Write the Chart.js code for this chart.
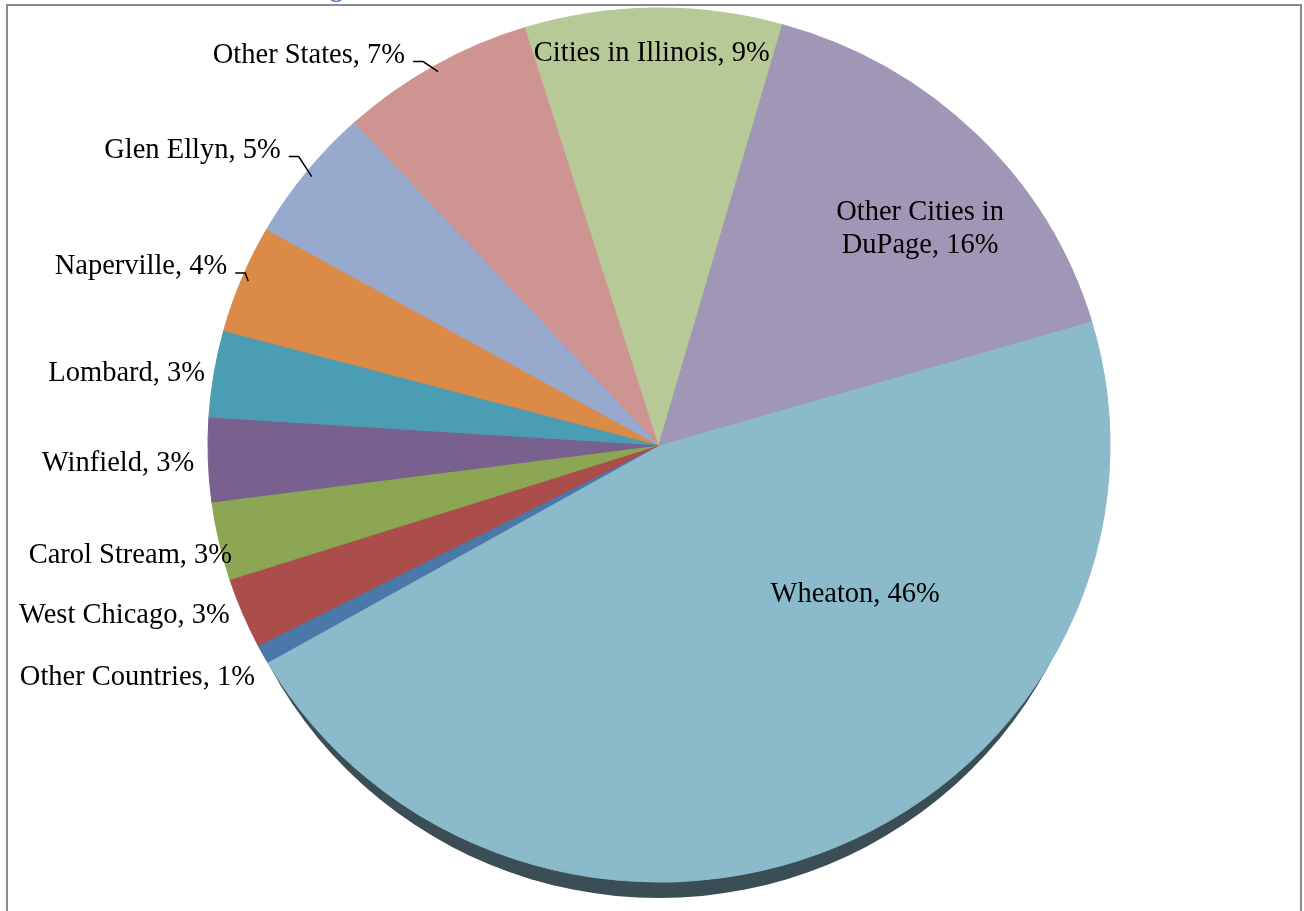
<!DOCTYPE html>
<html>
<head>
<meta charset="utf-8">
<title>Where students live</title>
<script src="https://cdn.jsdelivr.net/npm/chart.js@4.4.1/dist/chart.umd.min.js"></script>
<style>
  html, body { margin: 0; padding: 0; background: #fff; overflow: hidden; }
  #wrap { position: relative; width: 1304px; height: 911px; }
  #frame { position: absolute; left: 6px; top: 4px; width: 1292px; height: 960px; border: 2px solid #8c8c8c; border-bottom: none; }
  #pieChart { position: absolute; left: 0; top: 0; }
</style>
</head>
<body>
<div id="wrap">
  <div id="frame"></div>
  <canvas id="pieChart" width="1304" height="911"></canvas>
</div>
<script>
// -------------------- Data --------------------
const categories = ["Wheaton", "Other Countries", "West Chicago", "Carol Stream", "Winfield",
                    "Lombard", "Naperville", "Glen Ellyn", "Other States", "Cities in Illinois",
                    "Other Cities in DuPage"];
const shares = [46.3, 0.7, 2.6, 2.9, 3.1, 3.2, 4.0, 5.0, 7.0, 9.2, 16.0];
const sliceColors = ["#8bbacb", "#4a78a9", "#ab4d4b", "#8ca653", "#78608f",
                     "#4b9db3", "#dc8a48", "#97a9cc", "#ce9492", "#b8c998", "#a096b6"];

// -------------------- Label placement --------------------
// in   : centre of text, as a fraction of the radii from the pie centre
// out  : right end / baseline of text, relative to the slice's outer edge
// lead : same, but with a small leader line (offset is the elbow)
const labelSpots = [
    { kind: "in", u: 0.435, v: 0.343 },
    { kind: "out", dx: -8, dy: 31 },
    { kind: "out", dx: -13, dy: 10 },
    { kind: "out", dx: 13, dy: 22 },
    { kind: "out", dx: -14, dy: 11 },
    { kind: "out", dx: -9, dy: 8 },
    { kind: "lead", dx: -3, dy: -8 },
    { kind: "lead", dx: -13, dy: -20 },
    { kind: "lead", dx: -15, dy: -10 },
    { kind: "in", u: -0.016, v: -0.895 },
    { kind: "in", u: 0.579, v: -0.495, wrap: true }
];

const STRETCH_X = 451 / 437;   // pie is a bit wider than tall (tilted look)
const LABEL_FONT = '28.5px "Liberation Serif", "Times New Roman", serif';

// -------------------- Labels --------------------
function drawLabels(chart) {
    const ctx = chart.ctx;
    const arcs = chart.getDatasetMeta(0).data;
    const total = shares.reduce((a, b) => a + b, 0);

    ctx.save();
    ctx.font = LABEL_FONT;
    ctx.fillStyle = "#000";
    ctx.strokeStyle = "#000";
    ctx.lineWidth = 1.5;

    arcs.forEach((arc, i) => {
        const cx = arc.x, cy = arc.y;
        const ry = arc.outerRadius, rx = ry * STRETCH_X;
        const mid = (arc.startAngle + arc.endAngle) / 2;
        const pct = Math.round(shares[i] / total * 100);
        const spot = labelSpots[i];
        const text = categories[i] + ", " + pct + "%";

        if (spot.kind === "in") {
            ctx.textAlign = "center";
            ctx.textBaseline = "middle";
            const x = cx + rx * spot.u, y = cy + ry * spot.v;
            if (spot.wrap) {
                const cut = categories[i].lastIndexOf(" ");
                ctx.fillText(categories[i].slice(0, cut), x, y - 16.5);
                ctx.fillText(categories[i].slice(cut + 1) + ", " + pct + "%", x, y + 16.5);
            } else {
                ctx.fillText(text, x, y);
            }
        } else if (spot.kind === "out") {
            const ex = cx + rx * Math.cos(mid), ey = cy + ry * Math.sin(mid);
            ctx.textAlign = "right";
            ctx.textBaseline = "alphabetic";
            ctx.fillText(text, ex + spot.dx, ey + spot.dy);
        } else {
            const ex = cx + rx * 0.985 * Math.cos(mid), ey = cy + ry * 0.985 * Math.sin(mid);
            const bx = ex + spot.dx, by = ey + spot.dy;
            ctx.beginPath();
            ctx.moveTo(ex, ey);
            ctx.lineTo(bx, by);
            ctx.lineTo(bx - 10, by);
            ctx.stroke();
            ctx.textAlign = "right";
            ctx.textBaseline = "alphabetic";
            ctx.fillText(text, bx - 18, by + 1);
        }
    });

    // heading above the chart, only its descender is left on the page
    ctx.font = 'bold 26px "Liberation Serif", serif';
    ctx.fillStyle = "#4f81bd";
    ctx.textAlign = "right";
    ctx.textBaseline = "alphabetic";
    ctx.fillText("g", 343, -3);
    ctx.restore();
}

// -------------------- Tilted pie plugin --------------------
const tiltedPie = {
    id: "tiltedPie",
    beforeDatasetsDraw(chart) {
        const arc = chart.getDatasetMeta(0).data[0];
        const ctx = chart.ctx;
        const cx = arc.x, cy = arc.y, r = arc.outerRadius;

        // dark rim showing under the front of the pie
        ctx.save();
        ctx.fillStyle = "#3c4e55";
        ctx.beginPath();
        ctx.ellipse(cx, cy + 16, r * STRETCH_X - 10, r, 0, 0, Math.PI * 2);
        ctx.fill();
        ctx.restore();

        // stretch the round pie sideways, undone after the slices are drawn
        ctx.save();
        ctx.translate(cx, cy);
        ctx.scale(STRETCH_X, 1);
        ctx.translate(-cx, -cy);
    },
    afterDatasetsDraw(chart) {
        chart.ctx.restore();
        drawLabels(chart);
    }
};

// -------------------- Chart --------------------
new Chart(document.getElementById("pieChart"), {
    type: "pie",
    data: {
        labels: categories,
        datasets: [{
            data: shares,
            backgroundColor: sliceColors,
            borderColor: sliceColors,
            borderWidth: 1
        }]
    },
    options: {
        responsive: false,
        animation: false,
        rotation: 73.5,
        radius: 437,
        layout: { padding: { top: 8, bottom: 29, left: 200, right: 186 } },
        plugins: {
            legend: { display: false },
            tooltip: { enabled: false }
        }
    },
    plugins: [tiltedPie]
});
</script>
</body>
</html>
